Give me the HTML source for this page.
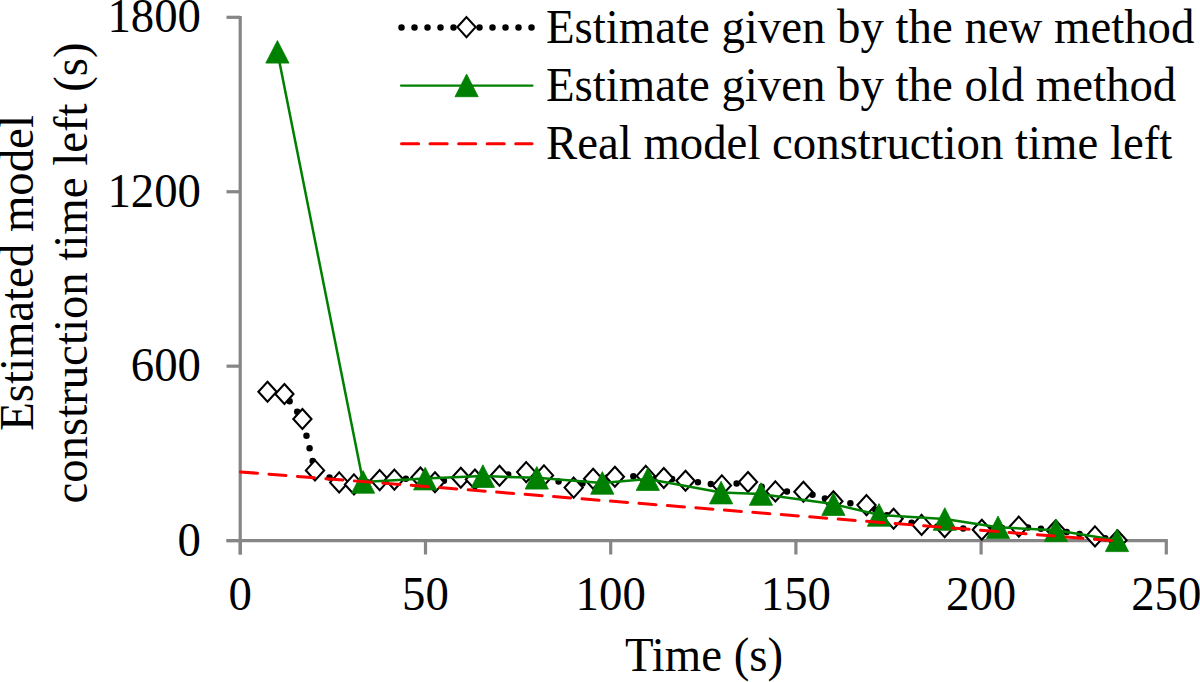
<!DOCTYPE html>
<html><head><meta charset="utf-8"><style>
html,body{margin:0;padding:0;background:#fff;}
svg{display:block;}
text{font-family:"Liberation Serif", serif;}
</style></head><body>
<svg width="1200" height="682" viewBox="0 0 1200 682">
<rect width="1200" height="682" fill="#fff"/>
<g stroke="#868686" stroke-width="3.2" fill="none">
<line x1="240.2" y1="16" x2="240.2" y2="554.5"/>
<line x1="226.5" y1="540.6" x2="1167.8" y2="540.6"/>
<line x1="226.5" y1="540.60" x2="240.2" y2="540.60"/>
<line x1="226.5" y1="366.17" x2="240.2" y2="366.17"/>
<line x1="226.5" y1="191.74" x2="240.2" y2="191.74"/>
<line x1="226.5" y1="17.31" x2="240.2" y2="17.31"/>
<line x1="240.30" y1="540.6" x2="240.30" y2="554.5"/>
<line x1="425.50" y1="540.6" x2="425.50" y2="554.5"/>
<line x1="610.70" y1="540.6" x2="610.70" y2="554.5"/>
<line x1="795.90" y1="540.6" x2="795.90" y2="554.5"/>
<line x1="981.10" y1="540.6" x2="981.10" y2="554.5"/>
<line x1="1166.30" y1="540.6" x2="1166.30" y2="554.5"/>
</g>
<polyline points="267.5,391.8 284.4,394.0 302.4,419.0 315.0,470.4 339.2,482.4 354.0,484.4 379.7,480.1 394.4,479.6 420.4,477.5 435.0,482.3 460.8,477.8 474.9,479.5 499.5,475.7 526.2,472.1 544.0,475.4 573.7,487.6 593.1,478.8 614.9,476.8 645.8,475.9 663.8,478.0 685.5,480.8 721.9,485.4 748.0,482.0 775.4,491.4 803.4,491.8 833.4,501.2 866.5,505.1 893.6,518.7 921.6,524.9 944.7,527.3 981.8,529.7 1018.8,526.6 1055.7,530.3 1095.0,536.4 1117.5,540.3" fill="none" stroke="#000" stroke-width="6.5" stroke-linecap="round" stroke-dasharray="0 13"/>
<path d="M267.5 381.8L276.6 391.8L267.5 401.8L258.4 391.8Z" fill="#fff" stroke="#000" stroke-width="2.1" stroke-miterlimit="10"/>
<path d="M284.4 384.0L293.5 394.0L284.4 404.0L275.3 394.0Z" fill="#fff" stroke="#000" stroke-width="2.1" stroke-miterlimit="10"/>
<path d="M302.4 409.0L311.5 419.0L302.4 429.0L293.3 419.0Z" fill="#fff" stroke="#000" stroke-width="2.1" stroke-miterlimit="10"/>
<path d="M315.0 460.4L324.1 470.4L315.0 480.4L305.9 470.4Z" fill="#fff" stroke="#000" stroke-width="2.1" stroke-miterlimit="10"/>
<path d="M339.2 472.4L348.3 482.4L339.2 492.4L330.1 482.4Z" fill="#fff" stroke="#000" stroke-width="2.1" stroke-miterlimit="10"/>
<path d="M354.0 474.4L363.1 484.4L354.0 494.4L344.9 484.4Z" fill="#fff" stroke="#000" stroke-width="2.1" stroke-miterlimit="10"/>
<path d="M379.7 470.1L388.8 480.1L379.7 490.1L370.6 480.1Z" fill="#fff" stroke="#000" stroke-width="2.1" stroke-miterlimit="10"/>
<path d="M394.4 469.6L403.5 479.6L394.4 489.6L385.3 479.6Z" fill="#fff" stroke="#000" stroke-width="2.1" stroke-miterlimit="10"/>
<path d="M420.4 467.5L429.5 477.5L420.4 487.5L411.3 477.5Z" fill="#fff" stroke="#000" stroke-width="2.1" stroke-miterlimit="10"/>
<path d="M435.0 472.3L444.1 482.3L435.0 492.3L425.9 482.3Z" fill="#fff" stroke="#000" stroke-width="2.1" stroke-miterlimit="10"/>
<path d="M460.8 467.8L469.9 477.8L460.8 487.8L451.7 477.8Z" fill="#fff" stroke="#000" stroke-width="2.1" stroke-miterlimit="10"/>
<path d="M474.9 469.5L484.0 479.5L474.9 489.5L465.8 479.5Z" fill="#fff" stroke="#000" stroke-width="2.1" stroke-miterlimit="10"/>
<path d="M499.5 465.7L508.6 475.7L499.5 485.7L490.4 475.7Z" fill="#fff" stroke="#000" stroke-width="2.1" stroke-miterlimit="10"/>
<path d="M526.2 462.1L535.3 472.1L526.2 482.1L517.1 472.1Z" fill="#fff" stroke="#000" stroke-width="2.1" stroke-miterlimit="10"/>
<path d="M544.0 465.4L553.1 475.4L544.0 485.4L534.9 475.4Z" fill="#fff" stroke="#000" stroke-width="2.1" stroke-miterlimit="10"/>
<path d="M573.7 477.6L582.8 487.6L573.7 497.6L564.6 487.6Z" fill="#fff" stroke="#000" stroke-width="2.1" stroke-miterlimit="10"/>
<path d="M593.1 468.8L602.2 478.8L593.1 488.8L584.0 478.8Z" fill="#fff" stroke="#000" stroke-width="2.1" stroke-miterlimit="10"/>
<path d="M614.9 466.8L624.0 476.8L614.9 486.8L605.8 476.8Z" fill="#fff" stroke="#000" stroke-width="2.1" stroke-miterlimit="10"/>
<path d="M645.8 465.9L654.9 475.9L645.8 485.9L636.7 475.9Z" fill="#fff" stroke="#000" stroke-width="2.1" stroke-miterlimit="10"/>
<path d="M663.8 468.0L672.9 478.0L663.8 488.0L654.7 478.0Z" fill="#fff" stroke="#000" stroke-width="2.1" stroke-miterlimit="10"/>
<path d="M685.5 470.8L694.6 480.8L685.5 490.8L676.4 480.8Z" fill="#fff" stroke="#000" stroke-width="2.1" stroke-miterlimit="10"/>
<path d="M721.9 475.4L731.0 485.4L721.9 495.4L712.8 485.4Z" fill="#fff" stroke="#000" stroke-width="2.1" stroke-miterlimit="10"/>
<path d="M748.0 472.0L757.1 482.0L748.0 492.0L738.9 482.0Z" fill="#fff" stroke="#000" stroke-width="2.1" stroke-miterlimit="10"/>
<path d="M775.4 481.4L784.5 491.4L775.4 501.4L766.3 491.4Z" fill="#fff" stroke="#000" stroke-width="2.1" stroke-miterlimit="10"/>
<path d="M803.4 481.8L812.5 491.8L803.4 501.8L794.3 491.8Z" fill="#fff" stroke="#000" stroke-width="2.1" stroke-miterlimit="10"/>
<path d="M833.4 491.2L842.5 501.2L833.4 511.2L824.3 501.2Z" fill="#fff" stroke="#000" stroke-width="2.1" stroke-miterlimit="10"/>
<path d="M866.5 495.1L875.6 505.1L866.5 515.1L857.4 505.1Z" fill="#fff" stroke="#000" stroke-width="2.1" stroke-miterlimit="10"/>
<path d="M893.6 508.7L902.7 518.7L893.6 528.7L884.5 518.7Z" fill="#fff" stroke="#000" stroke-width="2.1" stroke-miterlimit="10"/>
<path d="M921.6 514.9L930.7 524.9L921.6 534.9L912.5 524.9Z" fill="#fff" stroke="#000" stroke-width="2.1" stroke-miterlimit="10"/>
<path d="M944.7 517.3L953.8 527.3L944.7 537.3L935.6 527.3Z" fill="#fff" stroke="#000" stroke-width="2.1" stroke-miterlimit="10"/>
<path d="M981.8 519.7L990.9 529.7L981.8 539.7L972.7 529.7Z" fill="#fff" stroke="#000" stroke-width="2.1" stroke-miterlimit="10"/>
<path d="M1018.8 516.6L1027.9 526.6L1018.8 536.6L1009.7 526.6Z" fill="#fff" stroke="#000" stroke-width="2.1" stroke-miterlimit="10"/>
<path d="M1055.7 520.3L1064.8 530.3L1055.7 540.3L1046.6 530.3Z" fill="#fff" stroke="#000" stroke-width="2.1" stroke-miterlimit="10"/>
<path d="M1095.0 526.4L1104.1 536.4L1095.0 546.4L1085.9 536.4Z" fill="#fff" stroke="#000" stroke-width="2.1" stroke-miterlimit="10"/>
<path d="M1117.5 530.3L1126.6 540.3L1117.5 550.3L1108.4 540.3Z" fill="#fff" stroke="#000" stroke-width="2.1" stroke-miterlimit="10"/>
<polyline points="277.4,51.8 363.1,481.9 425.2,478.6 482.9,476.1 536.8,477.8 602.3,482.9 647.8,479.1 721.1,492.6 761.0,494.0 833.4,504.1 879.0,514.9 944.8,519.0 998.0,527.3 1055.9,530.3 1117.0,540.3" fill="none" stroke="#008000" stroke-width="2.5" stroke-linejoin="round"/>
<path d="M277.4 40.5L289.0 63.1L265.8 63.1Z" fill="#008000" stroke="#008000" stroke-width="0.8" stroke-linejoin="round"/>
<path d="M363.1 470.6L374.7 493.2L351.5 493.2Z" fill="#008000" stroke="#008000" stroke-width="0.8" stroke-linejoin="round"/>
<path d="M425.2 467.3L436.8 489.9L413.6 489.9Z" fill="#008000" stroke="#008000" stroke-width="0.8" stroke-linejoin="round"/>
<path d="M482.9 464.8L494.5 487.4L471.3 487.4Z" fill="#008000" stroke="#008000" stroke-width="0.8" stroke-linejoin="round"/>
<path d="M536.8 466.5L548.4 489.1L525.2 489.1Z" fill="#008000" stroke="#008000" stroke-width="0.8" stroke-linejoin="round"/>
<path d="M602.3 471.6L613.9 494.2L590.7 494.2Z" fill="#008000" stroke="#008000" stroke-width="0.8" stroke-linejoin="round"/>
<path d="M647.8 467.8L659.4 490.4L636.2 490.4Z" fill="#008000" stroke="#008000" stroke-width="0.8" stroke-linejoin="round"/>
<path d="M721.1 481.3L732.7 503.9L709.5 503.9Z" fill="#008000" stroke="#008000" stroke-width="0.8" stroke-linejoin="round"/>
<path d="M761.0 482.7L772.6 505.3L749.4 505.3Z" fill="#008000" stroke="#008000" stroke-width="0.8" stroke-linejoin="round"/>
<path d="M833.4 492.8L845.0 515.4L821.8 515.4Z" fill="#008000" stroke="#008000" stroke-width="0.8" stroke-linejoin="round"/>
<path d="M879.0 503.6L890.6 526.2L867.4 526.2Z" fill="#008000" stroke="#008000" stroke-width="0.8" stroke-linejoin="round"/>
<path d="M944.8 507.7L956.4 530.3L933.2 530.3Z" fill="#008000" stroke="#008000" stroke-width="0.8" stroke-linejoin="round"/>
<path d="M998.0 516.0L1009.6 538.6L986.4 538.6Z" fill="#008000" stroke="#008000" stroke-width="0.8" stroke-linejoin="round"/>
<path d="M1055.9 519.0L1067.5 541.6L1044.3 541.6Z" fill="#008000" stroke="#008000" stroke-width="0.8" stroke-linejoin="round"/>
<path d="M1117.0 529.0L1128.6 551.6L1105.4 551.6Z" fill="#008000" stroke="#008000" stroke-width="0.8" stroke-linejoin="round"/>
<line x1="240.5" y1="471.9" x2="1111.5" y2="540.6" stroke="#ff0000" stroke-width="3" stroke-linecap="round" stroke-dasharray="17.1 11.45"/>
<line x1="401.5" y1="27.5" x2="532" y2="27.5" stroke="#000" stroke-width="6.5" stroke-linecap="round" stroke-dasharray="0 13"/>
<path d="M466.5 17.1L475.6 27.1L466.5 37.1L457.4 27.1Z" fill="#fff" stroke="#000" stroke-width="2.1" stroke-miterlimit="10"/>
<line x1="401" y1="85.6" x2="532.5" y2="85.6" stroke="#008000" stroke-width="2.2" stroke-linecap="round"/>
<path d="M466.6 74.1L478.2 96.7L455.0 96.7Z" fill="#008000" stroke="#008000" stroke-width="0.8" stroke-linejoin="round"/>
<line x1="401.5" y1="143.8" x2="532" y2="143.8" stroke="#ff0000" stroke-width="3" stroke-linecap="round" stroke-dasharray="17.1 11.45"/>
<g font-family="Liberation Serif" font-size="48" fill="#000">
<text transform="translate(546,42.7) scale(0.975,1)" text-anchor="start">Estimate given by the new method</text>
<text transform="translate(546,100.7) scale(0.975,1)" text-anchor="start">Estimate given by the old method</text>
<text transform="translate(546,158.8) scale(0.975,1)" text-anchor="start">Real model construction time left</text>
<text transform="translate(201,555.6) scale(0.975,1)" text-anchor="end">0</text>
<text transform="translate(201,381.17) scale(0.975,1)" text-anchor="end">600</text>
<text transform="translate(201,206.74) scale(0.975,1)" text-anchor="end">1200</text>
<text transform="translate(201,32.31000000000006) scale(0.975,1)" text-anchor="end">1800</text>
<text transform="translate(240.3,609.5) scale(0.975,1)" text-anchor="middle">0</text>
<text transform="translate(425.5,609.5) scale(0.975,1)" text-anchor="middle">50</text>
<text transform="translate(610.7,609.5) scale(0.975,1)" text-anchor="middle">100</text>
<text transform="translate(795.9000000000001,609.5) scale(0.975,1)" text-anchor="middle">150</text>
<text transform="translate(981.1000000000001,609.5) scale(0.975,1)" text-anchor="middle">200</text>
<text transform="translate(1166.3,609.5) scale(0.975,1)" text-anchor="middle">250</text>
<text transform="translate(704,671) scale(0.975,1)" text-anchor="middle">Time (s)</text>
<text transform="translate(33,273) rotate(-90) scale(0.975,1)" text-anchor="middle">Estimated model</text>
<text transform="translate(87,273) rotate(-90) scale(0.975,1)" text-anchor="middle">construction time left (s)</text>
</g>
</svg>
</body></html>
